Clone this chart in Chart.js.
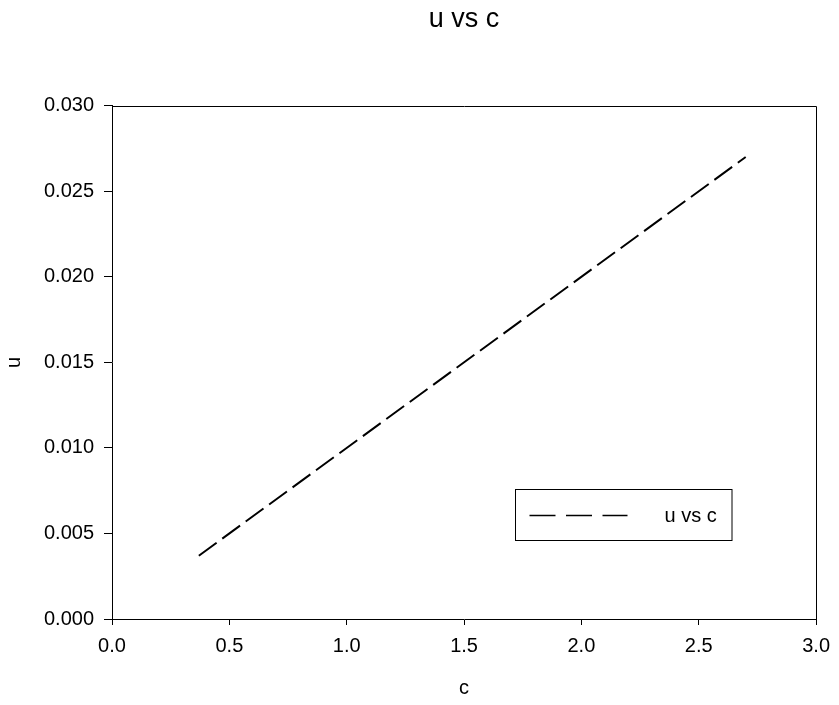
<!DOCTYPE html>
<html>
<head>
<meta charset="utf-8">
<script src="https://cdn.jsdelivr.net/npm/chart.js@4.4.0/dist/chart.umd.min.js"></script>
<style>
  html, body { margin: 0; padding: 0; background: #fff; }
  #c { display: block; }
</style>
</head>
<body>
<canvas id="c" width="839" height="705"></canvas>
<script>
// ---- data ----
const cValues = [0.37, 2.7];
const uValues = [0.0037, 0.027];
const seriesLabel = 'u vs c';
const chartTitle = 'u vs c';
const xTitle = 'c';
const yTitle = 'u';
const xTicks = [0.0, 0.5, 1.0, 1.5, 2.0, 2.5, 3.0];
const yTicks = [0.000, 0.005, 0.010, 0.015, 0.020, 0.025, 0.030];

const FONT = 'Liberation Sans, Arial, sans-serif';

const points = cValues.map((c, i) => ({ x: c, y: uValues[i] }));

const boxLegend = {
  id: 'boxLegend',
  afterDraw(chart) {
    const ctx = chart.ctx;
    const a = chart.chartArea;
    const bx = a.left + 402.5, by = a.top + 383.5, bw = 216.5, bh = 51;
    ctx.save();
    ctx.strokeStyle = '#000';
    ctx.lineWidth = 1;
    ctx.strokeRect(Math.round(bx) + 0.5, Math.round(by) + 0.5, bw, bh);
    const ly = Math.round(by + bh / 2) + 0.5;
    ctx.beginPath();
    ctx.setLineDash([26, 10.5]);
    ctx.lineWidth = 1.5;
    ctx.moveTo(bx + 15, ly);
    ctx.lineTo(bx + 113, ly);
    ctx.stroke();
    ctx.setLineDash([]);
    ctx.fillStyle = '#000';
    ctx.font = '20px ' + FONT;
    ctx.textAlign = 'left';
    ctx.textBaseline = 'alphabetic';
    ctx.fillText(chart.data.datasets[0].label, bx + 150, by + 32.5);
    ctx.restore();
  }
};

new Chart(document.getElementById('c'), {
  type: 'scatter',
  data: {
    datasets: [{
      label: seriesLabel,
      data: points,
      showLine: true,
      borderColor: '#000',
      backgroundColor: '#000',
      borderWidth: 2,
      borderDash: [22, 7],
      pointRadius: 0,
      tension: 0
    }]
  },
  options: {
    responsive: false,
    animation: false,
    devicePixelRatio: 1,
    layout: { padding: { left: 0, right: 17, top: 0, bottom: 0 } },
    plugins: {
      legend: { display: false },
      tooltip: { enabled: false },
      title: {
        display: true,
        text: chartTitle,
        fullSize: false,
        color: '#000',
        font: { family: FONT, size: 27, weight: 'normal' },
        padding: { top: 3, bottom: 70.3 }
      }
    },
    scales: {
      x: {
        type: 'linear',
        min: 0, max: 3,
        afterBuildTicks: s => { s.ticks = xTicks.map(v => ({ value: v })); },
        afterFit: s => { s.height = 86; },
        grid: { drawOnChartArea: false, drawTicks: true, tickLength: 6, tickColor: '#000', tickWidth: 1 },
        border: { display: true, color: '#000', width: 1 },
        ticks: {
          color: '#000',
          padding: 9,
          maxRotation: 0,
          font: { family: FONT, size: 20 },
          callback: v => Number(v).toFixed(1)
        },
        title: {
          display: true, text: xTitle, color: '#000',
          font: { family: FONT, size: 20 },
          padding: { top: 0, bottom: 5 }
        }
      },
      y: {
        type: 'linear',
        min: 0, max: 0.03,
        afterBuildTicks: s => { s.ticks = yTicks.map(v => ({ value: v })); },
        afterFit: s => { s.width = 112; },
        grid: { drawOnChartArea: false, drawTicks: true, tickLength: 8, tickColor: '#000', tickWidth: 1 },
        border: { display: true, color: '#000', width: 1 },
        ticks: {
          color: '#000',
          padding: 10,
          font: { family: FONT, size: 20 },
          callback: v => Number(v).toFixed(3)
        },
        title: {
          display: true, text: yTitle, color: '#000',
          font: { family: FONT, size: 20 },
          padding: { top: 2, bottom: 0 }
        }
      }
    }
  },
  plugins: [boxLegend, {
    id: 'frame',
    afterDraw(chart) {
      const ctx = chart.ctx, a = chart.chartArea;
      ctx.save();
      ctx.strokeStyle = '#000';
      ctx.lineWidth = 1;
      ctx.beginPath();
      ctx.moveTo(Math.round(a.left) + 0.5, Math.round(a.top) + 0.5);
      ctx.lineTo(Math.round(a.right) + 0.5, Math.round(a.top) + 0.5);
      ctx.lineTo(Math.round(a.right) + 0.5, Math.round(a.bottom) + 0.5);
      ctx.stroke();
      ctx.restore();
    }
  }]
});
</script>
</body>
</html>
